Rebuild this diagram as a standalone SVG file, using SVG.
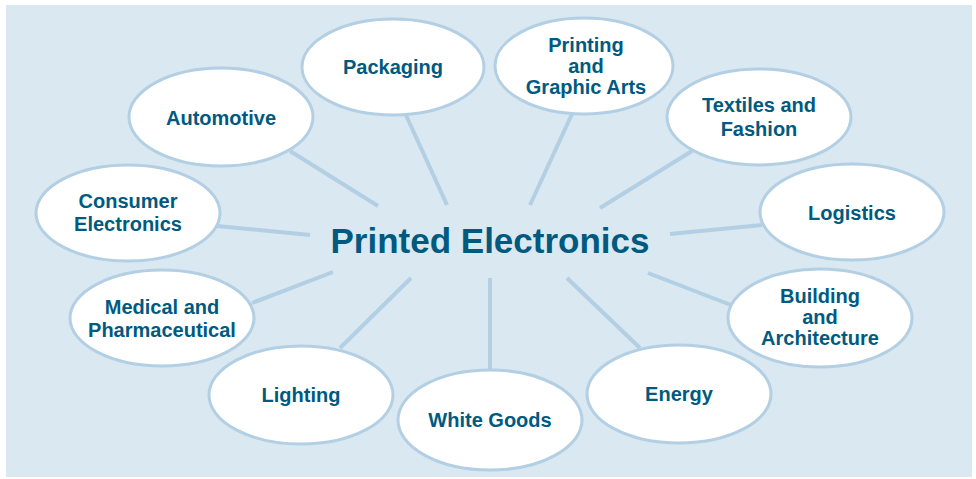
<svg xmlns="http://www.w3.org/2000/svg" width="976" height="479" viewBox="0 0 976 479">
<style>
.bg{fill:#d9e8f1}
.con line{stroke:#b3cfe3;stroke-width:4;stroke-linecap:butt}
.node ellipse{fill:#ffffff;stroke:#b3cfe3;stroke-width:3}
.node text,.title{font-family:"Liberation Sans",Arial,sans-serif;font-weight:700;fill:#005a80;text-anchor:middle}
.node text{font-size:20px}
.title{font-size:35px}
</style>
<rect x="0" y="0" width="976" height="479" fill="#ffffff"/>
<rect class="bg" x="6" y="5" width="966" height="472"/>
<g id="connectors" class="con">
<line x1="290" y1="151" x2="378" y2="206"/>
<line x1="405" y1="113" x2="447" y2="205"/>
<line x1="572" y1="114" x2="530" y2="205"/>
<line x1="692" y1="151" x2="600" y2="208"/>
<line x1="670" y1="234" x2="762" y2="225"/>
<line x1="648" y1="273" x2="731" y2="305"/>
<line x1="567" y1="278" x2="640" y2="348"/>
<line x1="490" y1="278" x2="490" y2="370"/>
<line x1="411" y1="278" x2="340" y2="348"/>
<line x1="333" y1="272" x2="252" y2="303"/>
<line x1="217" y1="226" x2="310" y2="235"/>
</g>
<text class="title" x="490" y="253">Printed Electronics</text>
<g id="automotive" class="node"><ellipse cx="221" cy="117" rx="92" ry="49"/><text x="221" y="125">Automotive</text></g>
<g id="packaging" class="node"><ellipse cx="393" cy="67" rx="91" ry="48"/><text x="393" y="74">Packaging</text></g>
<g id="printing" class="node"><ellipse cx="584" cy="66" rx="89" ry="48"/><text x="586" y="52">Printing</text><text x="586" y="73">and</text><text x="586" y="94">Graphic Arts</text></g>
<g id="textiles" class="node"><ellipse cx="759" cy="117" rx="92" ry="48"/><text x="759" y="112">Textiles and</text><text x="759" y="136">Fashion</text></g>
<g id="logistics" class="node"><ellipse cx="852" cy="212" rx="92" ry="48"/><text x="852" y="220">Logistics</text></g>
<g id="building" class="node"><ellipse cx="820" cy="318" rx="92" ry="49"/><text x="820" y="303">Building</text><text x="820" y="324">and</text><text x="820" y="345">Architecture</text></g>
<g id="energy" class="node"><ellipse cx="679" cy="394" rx="92" ry="49"/><text x="679" y="401">Energy</text></g>
<g id="whitegoods" class="node"><ellipse cx="490" cy="420" rx="92" ry="50"/><text x="490" y="427">White Goods</text></g>
<g id="lighting" class="node"><ellipse cx="301" cy="395" rx="92" ry="49"/><text x="301" y="402">Lighting</text></g>
<g id="medical" class="node"><ellipse cx="162" cy="318" rx="92" ry="48"/><text x="162" y="314">Medical and</text><text x="162" y="337">Pharmaceutical</text></g>
<g id="consumer" class="node"><ellipse cx="128" cy="213" rx="92" ry="48"/><text x="128" y="208">Consumer</text><text x="128" y="231">Electronics</text></g>
</svg>
